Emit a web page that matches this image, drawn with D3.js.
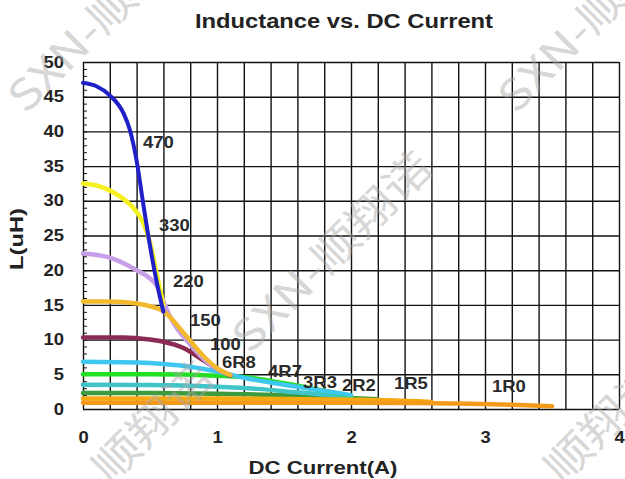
<!DOCTYPE html>
<html>
<head>
<meta charset="utf-8">
<script src="https://cdn.jsdelivr.net/npm/d3@7"></script>
<style>
  body { margin: 0; background: #fff; }
  svg { display: block; font-family: "Liberation Sans", Arial, sans-serif; }
</style>
</head>
<body>
<svg id="chart" width="625" height="479"></svg>
<script>
// series names (part numbers) and their curves [DC current A, inductance uH]
const seriesNames = ['2R2', '3R3', '4R7', '6R8', '1R5', '1R0', '100', '220', '150', '330', '470']
const seriesColors = ['#3d9a3d', '#40c4c8', '#22e022', '#3ec8f0', '#f7aa10', '#f39a1a', '#8b2a55', '#c79ee8', '#f2b92c', '#f5f020', '#2020c8']

const curve470 = [[0, 47], [0.1, 46.5], [0.2, 45.2], [0.3, 42.7], [0.35, 40.2], [0.4, 35.8], [0.45, 29.5], [0.5, 23.5], [0.55, 18.3], [0.6, 14]]
const curve330 = [[0, 32.5], [0.1, 32.2], [0.2, 31.5], [0.3, 30.3], [0.4, 28.4], [0.45, 26.8], [0.5, 24], [0.55, 19.5], [0.6, 15]]
const curve220 = [[0, 22.4], [0.2, 21.8], [0.4, 20], [0.5, 18.8], [0.55, 17.8], [0.6, 15.5], [0.65, 13.3], [0.8, 9.3], [0.95, 6.4], [1.1, 4.9]]
const curve150 = [[0, 15.5], [0.2, 15.5], [0.4, 15.2], [0.5, 14.8], [0.6, 14.1], [0.75, 11], [0.9, 7.6], [1.0, 5.9], [1.1, 4.9]]
const curve100 = [[0, 10.3], [0.3, 10.3], [0.5, 10.0], [0.6, 9.7], [0.75, 8.8], [0.9, 7.0], [1.0, 5.8], [1.1, 4.8]]
const curve6R8 = [[0, 6.8], [0.4, 6.7], [0.6, 6.5], [0.8, 6.1], [1.0, 5.4], [1.2, 4.5], [1.5, 3.5], [1.8, 2.6], [2.0, 2.0]]
const curve4R7 = [[0, 5.0], [0.5, 5.0], [1.0, 4.8], [1.2, 4.6], [1.5, 3.7], [1.8, 2.6], [2.0, 1.9]]
const curve3R3 = [[0, 3.5], [0.5, 3.45], [1.0, 3.2], [1.3, 2.9], [1.6, 2.4], [1.9, 1.9], [2.0, 1.7]]
const curve2R2 = [[0, 2.3], [0.5, 2.3], [1.0, 2.2], [1.5, 2.0], [2.0, 1.6], [2.2, 1.4]]
const curve1R5 = [[0, 1.5], [1.0, 1.5], [1.5, 1.45], [2.0, 1.35], [2.5, 1.1], [2.6, 1.0]]
const curve1R0 = [[0, 0.9], [1.0, 0.9], [2.0, 0.9], [2.5, 0.85], [2.9, 0.75], [3.2, 0.6], [3.5, 0.4]]
const seriesCurves = [curve2R2, curve3R3, curve4R7, curve6R8, curve1R5, curve1R0, curve100, curve220, curve150, curve330, curve470]

// where each part number is written [x A, L uH]
const labelNames = ['470', '330', '220', '150', '100', '6R8', '4R7', '3R3', '2R2', '1R5', '1R0']
const labelSpots = [[0.448, 37.6], [0.567, 25.6], [0.672, 17.6], [0.799, 12.0], [0.948, 8.5], [1.037, 5.9], [1.381, 4.6], [1.642, 3.0], [1.933, 2.6], [2.321, 2.9], [3.052, 2.45]]

const xTicks = [0, 1, 2, 3, 4]
const yTicks = [0, 5, 10, 15, 20, 25, 30, 35, 40, 45, 50]

const svg = d3.select('#chart')
const plotLeft = 83, plotRight = 619, plotTop = 62, plotBottom = 409

const x = d3.scaleLinear().domain([0, 4]).range([plotLeft, plotRight])
const y = d3.scaleLinear().domain([0, 50]).range([plotBottom, plotTop])

svg.append('rect').attr('width', 625).attr('height', 479).attr('fill', '#fff')

// grid
const gridX = svg.append('g')
  .attr('transform', 'translate(0,' + plotBottom + ')')
  .call(d3.axisBottom(x).tickValues(d3.range(0, 21).map(i => i * 0.2)).tickSize(-(plotBottom - plotTop)).tickFormat(''))
const gridY = svg.append('g')
  .attr('transform', 'translate(' + plotLeft + ',0)')
  .call(d3.axisLeft(y).tickValues(yTicks).tickSize(-(plotRight - plotLeft)).tickFormat(''))
svg.selectAll('.domain').remove()
gridX.selectAll('line').attr('stroke', '#111').attr('stroke-width', 1.4)
gridY.selectAll('line').attr('stroke', '#111').attr('stroke-width', 1.4)

// small ticks inside left edge
const minor = svg.append('g')
  .attr('transform', 'translate(' + plotLeft + ',0)')
  .call(d3.axisLeft(y).tickValues(d3.range(0, 51)).tickSize(-4).tickFormat(''))
minor.select('.domain').remove()
minor.selectAll('line').attr('stroke', '#111').attr('stroke-width', 1)

// tick labels
const yAxis = svg.append('g')
  .attr('transform', 'translate(' + plotLeft + ',0)')
  .call(d3.axisLeft(y).tickValues(yTicks).tickSize(0).tickFormat(d3.format('d')))
yAxis.select('.domain').remove()
yAxis.selectAll('text')
  .attr('x', -19 / 1.15)
  .attr('transform', 'scale(1.15,1)')
  .attr('font-size', 16).attr('font-weight', 'bold').attr('fill', '#222')
  .attr('font-family', '"Liberation Sans", Arial, sans-serif')

const xAxis = svg.append('g')
  .attr('transform', 'translate(0,' + plotBottom + ')')
  .call(d3.axisBottom(x).tickValues(xTicks).tickSize(0).tickFormat(d3.format('d')))
xAxis.select('.domain').remove()
xAxis.selectAll('text')
  .attr('y', 34).attr('dy', 0).attr('x', 0)
  .attr('transform', 'scale(1.15,1)')
  .attr('font-size', 16).attr('font-weight', 'bold').attr('fill', '#222')
  .attr('font-family', '"Liberation Sans", Arial, sans-serif')

// curves
const line = d3.line()
  .x(d => x(d[0]))
  .y(d => y(d[1]))
  .curve(d3.curveMonotoneX)

svg.append('g').selectAll('path')
  .data(seriesCurves)
  .enter()
  .append('path')
  .attr('d', d => line(d))
  .attr('fill', 'none')
  .attr('stroke', (d, i) => seriesColors[i])
  .attr('stroke-width', (d, i) => seriesNames[i] === '470' ? 4 : 4.5)
  .attr('stroke-linecap', 'round')
  .attr('stroke-linejoin', 'round')

// part number labels
svg.append('g').selectAll('text')
  .data(labelNames)
  .enter()
  .append('text')
  .attr('transform', (d, i) => 'translate(' + x(labelSpots[i][0]) + ',' + y(labelSpots[i][1]) + ') scale(1.12,1)')
  .attr('font-size', 16.5)
  .attr('font-weight', 'bold')
  .attr('fill', '#2a2a2a')
  .text(d => d)

// titles
svg.append('text')
  .attr('x', 344).attr('y', 28)
  .attr('text-anchor', 'middle')
  .attr('font-size', 20).attr('font-weight', 'bold').attr('fill', '#222')
  .attr('textLength', 298).attr('lengthAdjust', 'spacingAndGlyphs')
  .text('Inductance vs. DC Current')

svg.append('text')
  .attr('x', 323).attr('y', 474)
  .attr('text-anchor', 'middle')
  .attr('font-size', 19).attr('font-weight', 'bold').attr('fill', '#222')
  .attr('textLength', 149).attr('lengthAdjust', 'spacingAndGlyphs')
  .text('DC Current(A)')

svg.append('text')
  .attr('transform', 'translate(23,239) rotate(-90)')
  .attr('text-anchor', 'middle')
  .attr('font-size', 18).attr('font-weight', 'bold').attr('fill', '#222')
  .attr('textLength', 62).attr('lengthAdjust', 'spacingAndGlyphs')
  .text('L(uH)')

// faint watermark
const marks = [[108, 12], [598, 12], [332, 252], [113, 462], [565, 462]]
svg.append('g').selectAll('text')
  .data(marks)
  .enter()
  .append('text')
  .attr('transform', d => 'translate(' + d[0] + ',' + d[1] + ') rotate(-45)')
  .attr('text-anchor', 'middle')
  .attr('dy', '0.35em')
  .attr('font-size', 42)
  .attr('font-family', '"Noto Sans CJK SC", "Liberation Sans", sans-serif')
  .attr('fill', '#a8a8a8')
  .attr('opacity', 0.45)
  .attr('textLength', 262).attr('lengthAdjust', 'spacingAndGlyphs')
  .text('SXN-顺翔诺')
</script>
</body>
</html>
